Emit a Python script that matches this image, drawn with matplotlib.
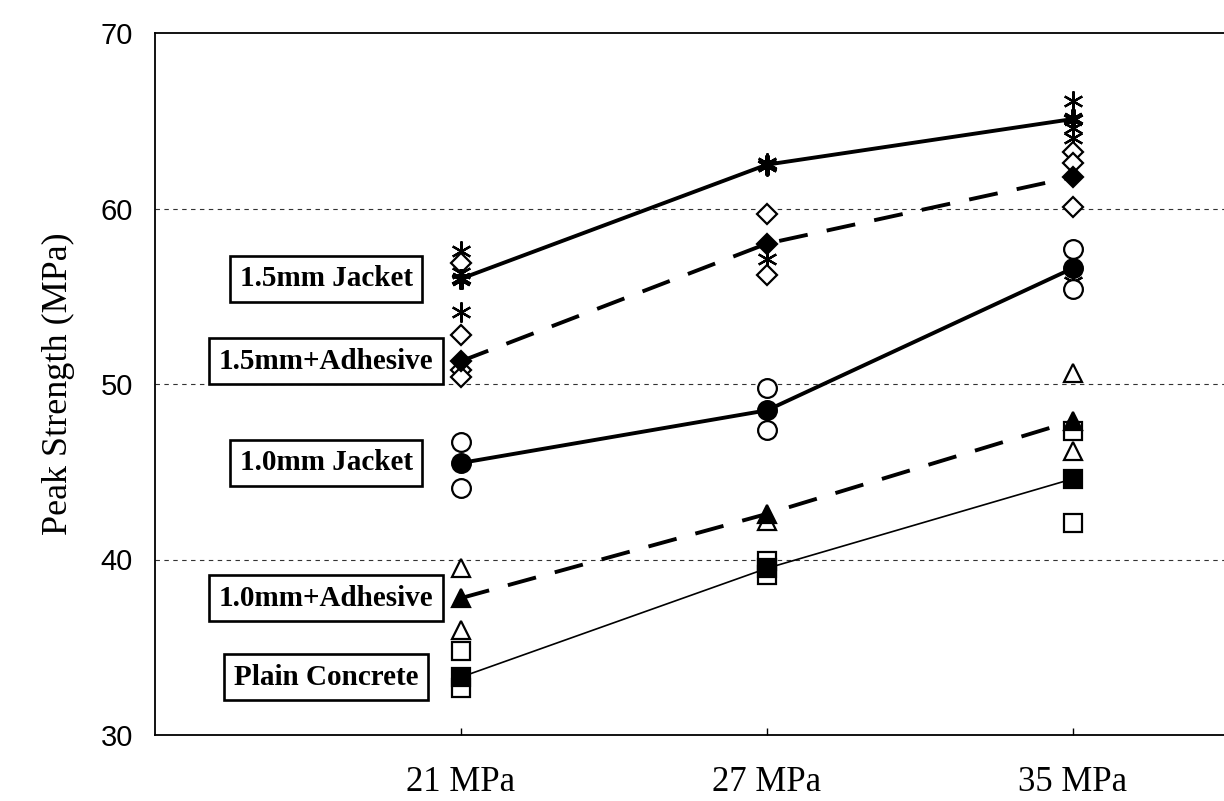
import numpy as np
import matplotlib
matplotlib.use("Agg")
import matplotlib.pyplot as plt

# categories (concrete strength)
categories = ["21 MPa", "27 MPa", "35 MPa"]
yticks = [30, 40, 50, 60, 70]

series_names = ["1.5mm Jacket", "1.5mm+Adhesive", "1.0mm Jacket",
                "1.0mm+Adhesive", "Plain Concrete"]

# mean values (lines)
mean_15_jacket = [56.0, 62.5, 65.1]
mean_15_adhesive = [51.3, 58.0, 61.8]
mean_10_jacket = [45.5, 48.5, 56.6]
mean_10_adhesive = [37.8, 42.6, 47.9]
mean_plain = [33.3, 39.5, 44.6]

# individual specimens, one list per category
pts_15_jacket = [[57.6, 56.3, 54.1], [62.6, 62.4, 57.1], [66.1, 64.6, 64.0, 55.8]]
pts_15_adhesive = [[56.9, 52.8, 50.8, 50.4], [59.7, 56.2], [63.2, 62.6, 60.1]]
pts_10_jacket = [[46.7, 44.1], [49.8, 47.4], [57.7, 55.4]]
pts_10_adhesive = [[39.5, 36.0], [42.2], [50.6, 46.2]]
pts_plain = [[34.8, 32.7], [39.9, 39.1], [47.3, 42.1]]

means = [mean_15_jacket, mean_15_adhesive, mean_10_jacket, mean_10_adhesive, mean_plain]
points = [pts_15_jacket, pts_15_adhesive, pts_10_jacket, pts_10_adhesive, pts_plain]

asterisk = (6, 2, 0)
dash = (0, (7.5, 5))
styles = [
    dict(marker=asterisk, ms=14.5, ls="-", lw=2.8),
    dict(marker="D", ms=10.5, ls=dash, lw=2.8),
    dict(marker="o", ms=13.5, ls="-", lw=2.8),
    dict(marker="^", ms=13, ls=dash, lw=2.8),
    dict(marker="s", ms=12.5, ls="-", lw=1.2),
]

fig = plt.figure(figsize=(12.24, 8.01), dpi=100)
ax = fig.add_axes([155 / 1224, 1 - 735 / 801, 1224 / 1224, (735 - 33) / 801])

x = np.arange(1, len(categories) + 1)

for mean, pts, st in zip(means, points, styles):
    # open markers for individual specimens
    for xi, vals in zip(x, pts):
        ax.plot([xi] * len(vals), vals, linestyle="none", marker=st["marker"],
                ms=st["ms"], mfc="white", mec="black", mew=1.6, zorder=3)
    # filled markers + line for the mean
    ax.plot(x, mean, color="black", linestyle=st["ls"], linewidth=st["lw"],
            marker=st["marker"], ms=st["ms"], mfc="black", mec="black",
            mew=3.0 if st["marker"] == asterisk else 1.6, zorder=4)

# series labels in boxes, left of the first category
for name, mean in zip(series_names, means):
    ax.text(0.56, mean[0], name, ha="center", va="center",
            family="Liberation Serif", fontweight="bold", fontsize=21,
            bbox=dict(boxstyle="square,pad=0.33", fc="white", ec="black", lw=1.9),
            zorder=5)

ax.set_xlim(0, 4)
ax.set_ylim(30, 70)
ax.set_xticks(x)
ax.set_xticklabels(categories, family="Liberation Serif", fontsize=25)
ax.set_yticks(yticks)
ax.set_yticklabels([str(t) for t in yticks], family="Liberation Sans", fontsize=21)
ax.tick_params(axis="x", direction="in", length=5, width=1, pad=22)
ax.tick_params(axis="y", length=0, pad=16)

for g in [40, 50, 60]:
    ax.axhline(g, color="#333333", linestyle=(0, (4, 4)), linewidth=0.8, zorder=1)

for sp in ["left", "bottom", "top"]:
    ax.spines[sp].set_linewidth(1.3)
ax.spines["right"].set_visible(False)

ax.set_ylabel("Peak Strength (MPa)", family="Liberation Serif", fontsize=26, labelpad=18)

fig.savefig("out.png", dpi=100)
